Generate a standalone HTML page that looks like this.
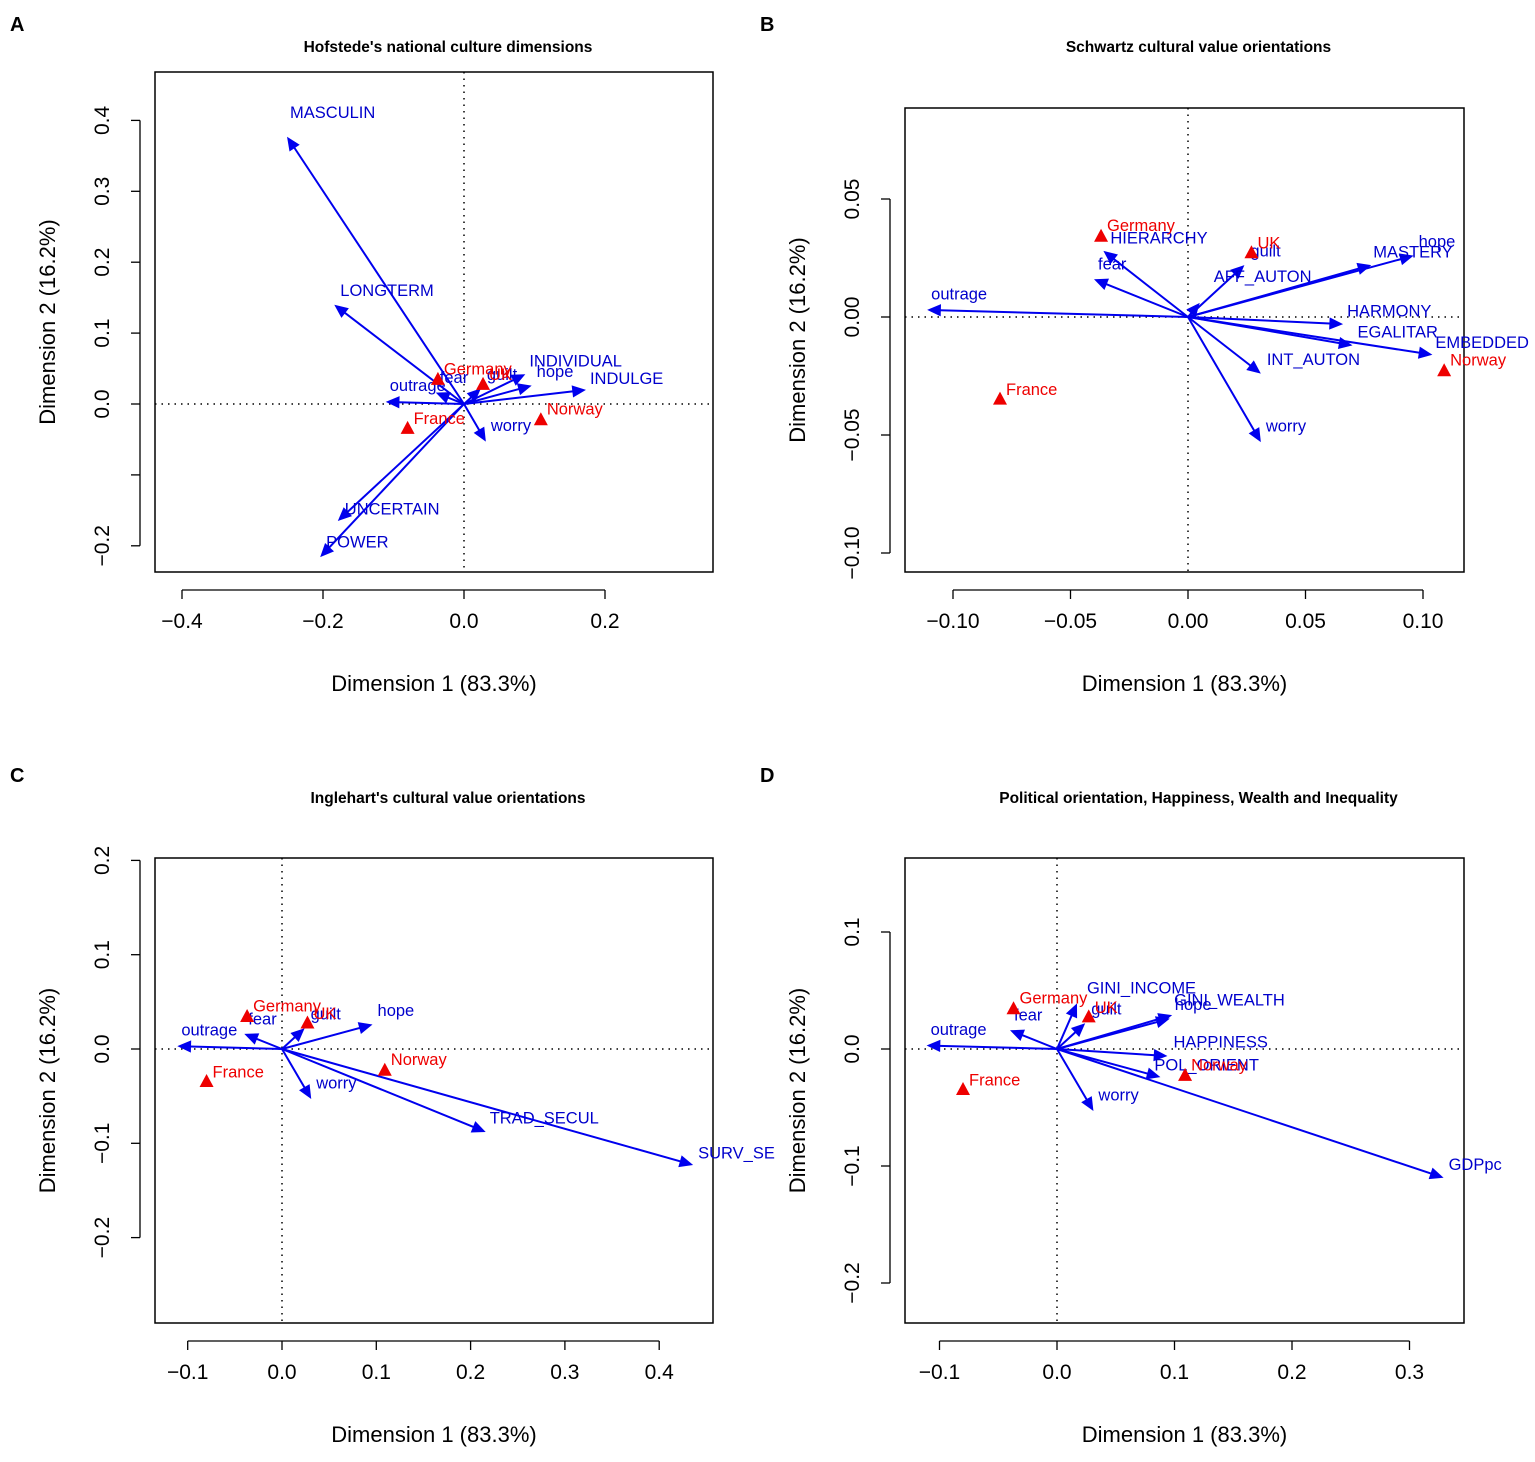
<!DOCTYPE html>
<html><head><meta charset="utf-8"><style>
body{margin:0;background:#fff;}
svg{font-family:"Liberation Sans",Arial,sans-serif;}
</style></head><body>
<svg id="fig" width="1535" height="1457" xmlns="http://www.w3.org/2000/svg"></svg>
<script>
const countryNames=["France","Germany","UK","Norway"];
const countryX=[-0.080,-0.037,0.027,0.109];
const countryY=[-0.035,0.034,0.027,-0.023];
const emoNames=["outrage","fear","guilt","hope","worry"];
const emoX=[-0.111,-0.040,0.024,0.096,0.031];
const emoY=[0.003,0.016,0.022,0.026,-0.053];
const hofNames=["MASCULIN","LONGTERM","INDIVIDUAL","INDULGE","UNCERTAIN","POWER"];
const hofX=[-0.251,-0.184,0.087,0.173,-0.179,-0.204];
const hofY=[0.377,0.140,0.042,0.020,-0.165,-0.216];
const schNames=["HIERARCHY","MASTERY","AFF_AUTON","HARMONY","EGALITAR","EMBEDDED","INT_AUTON"];
const schX=[-0.036,0.078,0.005,0.066,0.070,0.104,0.031];
const schY=[0.028,0.022,0.006,-0.003,-0.012,-0.016,-0.024];
const ingNames=["TRAD_SECUL","SURV_SE"];
const ingX=[0.216,0.436];
const ingY=[-0.088,-0.123];
const polNames=["GINI_INCOME","GINI_WEALTH","HAPPINESS","POL_ORIENT","GDPpc"];
const polX=[0.017,0.098,0.094,0.088,0.329];
const polY=[0.039,0.029,-0.006,-0.024,-0.110];
const ticksA_x=[-0.4,-0.2,0.0,0.2], ticksA_y=[-0.2,-0.1,0.0,0.1,0.2,0.3,0.4];
const ticksB_x=[-0.10,-0.05,0.00,0.05,0.10], ticksB_y=[-0.10,-0.05,0.00,0.05];
const ticksC_x=[-0.1,0.0,0.1,0.2,0.3,0.4], ticksC_y=[-0.2,-0.1,0.0,0.1,0.2];
const ticksD_x=[-0.1,0.0,0.1,0.2,0.3], ticksD_y=[-0.2,-0.1,0.0,0.1];

const NS="http://www.w3.org/2000/svg";
const svg=document.getElementById('fig');
function el(tag,attrs,parent){const e=document.createElementNS(NS,tag);for(const k in attrs)e.setAttribute(k,attrs[k]);(parent||svg).appendChild(e);return e;}

const emoOff=[[4,-15],[4,-14],[6,-13],[5,-13],[5,-15]];
const ctryOff=[[6,-9],[6,-10],[6,-9],[6,-10]];

function panel(p){
  const g=el('g',{});
  
  
  const X=v=>p.x0+v*p.xs, Y=v=>p.y0-v*p.ys;
  const L=el('text',{x:p.bx1-145,y:p.ty-21,'font-size':20,'font-weight':'bold'},g);L.textContent=p.id;
  
  const T=el('text',{x:(p.bx1+p.bx2)/2+14,y:p.ty,'font-size':15.5,'font-weight':'bold','text-anchor':'middle'},g);T.textContent=p.title;
  
  const box=el('rect',{x:p.bx1,y:p.by1,width:p.bx2-p.bx1,height:p.by2-p.by1,fill:'none',stroke:'#000','stroke-width':1.5},g);
  
  const ax=el('g',{},g);
  const ay=p.by2+18;
  el('line',{x1:X(p.tx[0]),x2:X(p.tx[p.tx.length-1]),y1:ay,y2:ay,stroke:'#000','stroke-width':1.3},ax);
  p.tx.forEach(v=>{el('line',{x1:X(v),x2:X(v),y1:ay,y2:ay+9,stroke:'#000','stroke-width':1.3},ax);
    const t=el('text',{x:X(v),y:ay+38,'font-size':21,'text-anchor':'middle'},ax);t.textContent=(v<0?'\u2212':'')+Math.abs(v).toFixed(p.dec);
    });
  const xl=el('text',{x:(p.bx1+p.bx2)/2,y:p.by2+119,'font-size':22,'text-anchor':'middle'},g);xl.textContent='Dimension 1 (83.3%)';
  
  const yg=el('g',{},g);
  const axx=p.bx1-15;
  el('line',{y1:Y(p.ty_[0]),y2:Y(p.ty_[p.ty_.length-1]),x1:axx,x2:axx,stroke:'#000','stroke-width':1.3},yg);
  p.ty_.forEach(v=>{el('line',{y1:Y(v),y2:Y(v),x1:axx,x2:axx-9,stroke:'#000','stroke-width':1.3},yg);
    if(p.skipY && p.skipY.includes(v))return;
    const t=el('text',{x:0,y:0,'font-size':21,'text-anchor':'middle',transform:`translate(${axx-31},${Y(v)}) rotate(-90)`},yg);
    t.textContent=(v<0?'\u2212':'')+Math.abs(v).toFixed(p.dec);
    });
  const yl=el('text',{x:0,y:0,'font-size':22,'text-anchor':'middle',transform:`translate(${p.bx1-100},${(p.by1+p.by2)/2}) rotate(-90)`},g);yl.textContent='Dimension 2 (16.2%)';
  
  const cid='clip'+p.id;const cp=el('clipPath',{id:cid},g);el('rect',{x:p.bx1-200,y:p.by1,width:p.clipR-p.bx1+200,height:p.by2-p.by1},cp);
  const inner=el('g',{'clip-path':`url(#${cid})`},g);
  el('line',{x1:p.bx1,x2:p.bx2,y1:Y(0),y2:Y(0),stroke:'#000','stroke-width':1.5,'stroke-dasharray':'1.5 5'},inner);
  el('line',{x1:X(0),x2:X(0),y1:p.by1,y2:p.by2,stroke:'#000','stroke-width':1.5,'stroke-dasharray':'1.5 5'},inner);
  function arrow(vx,vy,name,off){
    const a=el('g',{},inner);
    
    
    const x1=X(0),y1=Y(0),x2=X(vx),y2=Y(vy);
    const ang=Math.atan2(y2-y1,x2-x1),h=15,w=0.42;
    el('line',{x1,y1,x2:x2-Math.cos(ang)*8,y2:y2-Math.sin(ang)*8,stroke:'#0000ee','stroke-width':2},a);
    el('polygon',{points:`${x2},${y2} ${x2-h*Math.cos(ang-w)},${y2-h*Math.sin(ang-w)} ${x2-h*Math.cos(ang+w)},${y2-h*Math.sin(ang+w)}`,fill:'#0000ee'},a);
    const t=el('text',{x:x2+off[0],y:y2+off[1],'font-size':16.5,fill:'#0000cc','dominant-baseline':'middle'},a);t.textContent=name;
  }
  emoNames.forEach((n,i)=>arrow(emoX[i],emoY[i],n,(p.emoOff||emoOff)[i]));
  p.names.forEach((n,i)=>arrow(p.vx[i],p.vy[i],n,p.off[i]));
  countryNames.forEach((n,i)=>{
    const c=el('g',{},inner);
    
    
    const cx=X(countryX[i]),cy=Y(countryY[i]);
    el('polygon',{points:`${cx},${cy-8} ${cx-7},${cy+5} ${cx+7},${cy+5}`,fill:'#ee0000'},c);
    const t=el('text',{x:cx+ctryOff[i][0],y:cy+ctryOff[i][1],'font-size':16.5,fill:'#ee0000','dominant-baseline':'middle'},c);t.textContent=n;
  });
}
panel({id:'A',title:"Hofstede's national culture dimensions",bx1:155,bx2:713,by1:72,by2:572,ty:52,x0:464,xs:705,y0:404,ys:709,tx:ticksA_x,ty_:ticksA_y,skipY:[-0.1],dec:1,clipR:780,
  names:hofNames,vx:hofX,vy:hofY,off:[[3,-23],[6,-13],[4,-12],[4,-10],[7,-11],[6,-14]]});
panel({id:'B',title:"Schwartz cultural value orientations",bx1:905,bx2:1464,by1:108,by2:572,ty:52,x0:1188,xs:2350,y0:317,ys:2360,tx:ticksB_x,ty_:ticksB_y,dec:2,clipR:1535,
  names:schNames,vx:schX,vy:schY,off:[[7,-12],[2,-12],[14,-25],[4,-12],[5,-12],[3,-11],[6,-13]]});
panel({id:'C',title:"Inglehart's cultural value orientations",bx1:155,bx2:713,by1:858,by2:1323,ty:803,x0:282,xs:943,y0:1049,ys:943,tx:ticksC_x,ty_:ticksC_y,dec:1,clipR:780,
  names:ingNames,vx:ingX,vy:ingY,off:[[4,-13],[5,-11]]});
panel({id:'D',title:"Political orientation, Happiness, Wealth and Inequality",bx1:905,bx2:1464,by1:858,by2:1323,ty:803,x0:1057,xs:1175,y0:1049,ys:1170,tx:ticksD_x,ty_:ticksD_y,dec:1,clipR:1535,
  names:polNames,vx:polX,vy:polY,off:[[10,-14],[2,-14],[6,-13],[-6,-11],[5,-12]]});
</script>
</body></html>
